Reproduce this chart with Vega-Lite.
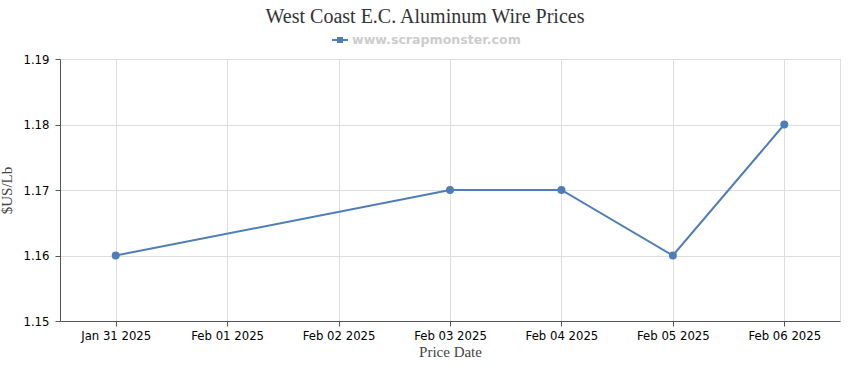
{
  "$schema": "https://vega.github.io/schema/vega-lite/v6.json",
  "width": 780,
  "height": 262,
  "autosize": "none",
  "padding": {"left": 60, "top": 59, "right": 10, "bottom": 49},
  "background": "white",
  "title": {
    "text": "West Coast E.C. Aluminum Wire Prices",
    "font": "Liberation Serif",
    "fontSize": 20,
    "fontWeight": "normal",
    "color": "#333333",
    "anchor": "middle",
    "frame": "group",
    "dx": -25,
    "offset": 5
  },
  "config": {
    "view": {"stroke": "#dddddd"},
    "axis": {
      "gridColor": "#dddddd",
      "domainColor": "#555555",
      "tickColor": "#555555",
      "labelFont": "DejaVu Sans",
      "labelFontSize": 11.7,
      "labelColor": "#000000",
      "titleFont": "Liberation Serif",
      "titleFontSize": 15,
      "titleFontWeight": "normal",
      "titleColor": "#444444"
    }
  },
  "data": {
    "values": [
      {"date": "Jan 31 2025", "price": 1.16, "series": "www.scrapmonster.com"},
      {"date": "Feb 03 2025", "price": 1.17, "series": "www.scrapmonster.com"},
      {"date": "Feb 04 2025", "price": 1.17, "series": "www.scrapmonster.com"},
      {"date": "Feb 05 2025", "price": 1.16, "series": "www.scrapmonster.com"},
      {"date": "Feb 06 2025", "price": 1.18, "series": "www.scrapmonster.com"}
    ]
  },
  "mark": {"type": "line", "point": {"size": 64, "filled": true}, "strokeWidth": 2},
  "encoding": {
    "x": {
      "field": "date",
      "type": "ordinal",
      "sort": null,
      "scale": {
        "type": "point",
        "padding": 0.5,
        "domain": ["Jan 31 2025", "Feb 01 2025", "Feb 02 2025", "Feb 03 2025", "Feb 04 2025", "Feb 05 2025", "Feb 06 2025"]
      },
      "axis": {"title": "Price Date", "labelAngle": 0, "grid": true, "tickSize": 5, "labelPadding": 4, "titlePadding": 3, "domain": true}
    },
    "y": {
      "field": "price",
      "type": "quantitative",
      "scale": {"domain": [1.15, 1.19], "nice": false, "zero": false},
      "axis": {"title": "$US/Lb", "values": [1.15, 1.16, 1.17, 1.18, 1.19], "format": ".2f", "tickSize": 5, "labelPadding": 6, "titlePadding": 8}
    },
    "color": {
      "field": "series",
      "type": "nominal",
      "scale": {"range": ["#4f7db8"]},
      "legend": {
        "title": null,
        "orient": "none",
        "legendX": 272,
        "legendY": -27,
        "labelFont": "DejaVu Sans",
        "labelFontSize": 12.6,
        "labelFontWeight": "bold",
        "labelColor": "#cccccc",
        "labelLimit": 300,
        "labelOffset": 4,
        "symbolType": "M-1,-0.125H1V0.125H-1Z M-0.375,-0.375H0.375V0.375H-0.375Z",
        "symbolSize": 256,
        "symbolFillColor": "#4f7db8",
        "symbolStrokeColor": "#4f7db8",
        "symbolStrokeWidth": 0
      }
    }
  }
}
